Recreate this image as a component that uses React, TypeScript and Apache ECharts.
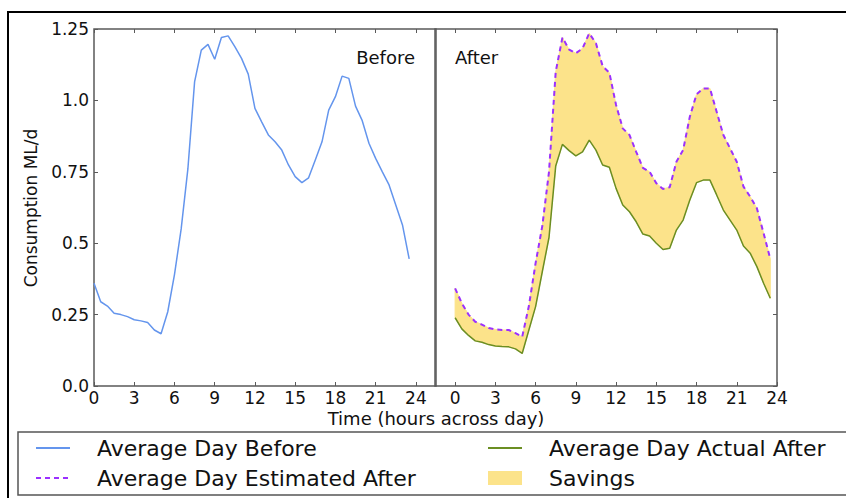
import React, { useEffect, useRef } from 'react';
import * as echarts from 'echarts';

const HOURS = [0, 0.5, 1, 1.5, 2, 2.5, 3, 3.5, 4, 4.5, 5, 5.5, 6, 6.5, 7, 7.5, 8, 8.5, 9, 9.5, 10, 10.5, 11, 11.5,
  12, 12.5, 13, 13.5, 14, 14.5, 15, 15.5, 16, 16.5, 17, 17.5, 18, 18.5, 19, 19.5, 20, 20.5, 21, 21.5, 22, 22.5, 23, 23.5];

const BEFORE = [0.36, 0.295, 0.28, 0.255, 0.25, 0.243, 0.232, 0.228, 0.222, 0.196, 0.183, 0.26, 0.39, 0.55, 0.76, 1.065,
  1.176, 1.196, 1.144, 1.22, 1.226, 1.188, 1.147, 1.092, 0.972, 0.925, 0.879, 0.855, 0.826, 0.774, 0.733, 0.712,
  0.729, 0.791, 0.855, 0.966, 1.013, 1.085, 1.077, 0.98, 0.929, 0.85, 0.797, 0.75, 0.704, 0.634, 0.564, 0.445];

const ESTIMATED_AFTER = [0.342, 0.29, 0.25, 0.225, 0.215, 0.203, 0.198, 0.196, 0.196, 0.185, 0.172, 0.28, 0.43, 0.56, 0.75, 1.1,
  1.22, 1.178, 1.165, 1.182, 1.235, 1.2, 1.12, 1.097, 0.984, 0.902, 0.879, 0.82, 0.764, 0.75, 0.71, 0.69,
  0.696, 0.785, 0.826, 0.943, 1.021, 1.042, 1.042, 0.96, 0.879, 0.832, 0.785, 0.698, 0.663, 0.622, 0.535, 0.445];

const ACTUAL_AFTER = [0.239, 0.2, 0.177, 0.158, 0.153, 0.145, 0.14, 0.138, 0.137, 0.13, 0.114, 0.196, 0.278, 0.4, 0.52, 0.77,
  0.846, 0.824, 0.806, 0.82, 0.861, 0.826, 0.774, 0.766, 0.692, 0.634, 0.61, 0.575, 0.532, 0.525, 0.5, 0.478,
  0.482, 0.546, 0.581, 0.651, 0.712, 0.721, 0.721, 0.669, 0.616, 0.581, 0.546, 0.49, 0.465, 0.418, 0.36, 0.307];

const X_TICKS = [0, 3, 6, 9, 12, 15, 18, 21, 24];
const Y_TICKS = [0, 0.25, 0.5, 0.75, 1, 1.25];
const Y_TICK_LABELS = ['0.0', '0.25', '0.5', '0.75', '1.0', '1.25'];

const BLUE = '#6495ED';
const PURPLE = '#9B30FF';
const GREEN = '#6B8E23';
const FILL = '#FCE38A';
const SPINE = '#5a5a5a';
const FONT = 'DejaVu Sans';

export default function App() {
  const ref = useRef<HTMLDivElement>(null);

  useEffect(() => {
    const chart = echarts.init(ref.current as HTMLDivElement, null, { renderer: 'svg' });
    const pairs = (ys: number[]) => HOURS.map((h, i) => [h, ys[i]]);

    const gridBase = { top: 29, width: 342, height: 357, show: true, borderColor: SPINE, borderWidth: 1.5, backgroundColor: 'transparent' };

    const xAxis = (gridIndex: number, min: number, max: number, position: string, showLabel: boolean) => ({
      type: 'value', gridIndex, min, max, position,
      axisLine: { show: false, onZero: false }, splitLine: { show: false },
      axisTick: { show: true, inside: true, length: 4, customValues: X_TICKS, lineStyle: { color: SPINE, width: 1 } },
      axisLabel: { show: showLabel, customValues: X_TICKS, margin: 3, fontSize: 17, color: '#111', fontFamily: FONT },
    });

    const yAxis = (gridIndex: number, position: string, showLabel: boolean, showTick: boolean) => ({
      type: 'value', gridIndex, min: 0, max: 1.25, interval: 0.25, position,
      axisLine: { show: false, onZero: false }, splitLine: { show: false },
      axisTick: { show: showTick, inside: true, length: 4, lineStyle: { color: SPINE, width: 1 } },
      axisLabel: {
        show: showLabel, margin: 5, fontSize: 17, color: '#111', fontFamily: FONT,
        formatter: (v: number) => {
          const idx = Y_TICKS.indexOf(Math.round(v * 100) / 100);
          return idx >= 0 ? Y_TICK_LABELS[idx] : '';
        },
      },
    });

    const legendBase = {
      top: 432, height: 70, orient: 'vertical', itemWidth: 34, itemHeight: 14, itemGap: 8,
      itemStyle: { opacity: 0 },
      textStyle: { fontSize: 22, fontFamily: FONT, color: '#111', padding: [0, 0, 0, 22], lineHeight: 16 },
    };

    chart.setOption({
      animation: false,
      backgroundColor: '#fff',
      grid: [
        { ...gridBase, left: 94 },
        { ...gridBase, left: 435 },
      ],
      xAxis: [
        xAxis(0, 0, 25.5, 'bottom', true),
        xAxis(1, -1.5, 24, 'bottom', true),
        xAxis(0, 0, 25.5, 'top', false),
        xAxis(1, -1.5, 24, 'top', false),
      ],
      yAxis: [
        yAxis(0, 'left', true, true),
        yAxis(1, 'left', false, false),
        yAxis(1, 'right', false, true),
      ],
      legend: [
        { ...legendBase, left: 30, data: ['Average Day Before', 'Average Day Estimated After'] },
        {
          ...legendBase, left: 482,
          data: ['Average Day Actual After', { name: 'Savings', icon: 'rect', itemStyle: { color: FILL, opacity: 1 } }],
        },
      ],
      graphic: [
        { type: 'rect', silent: true, z: -10, shape: { x: 8, y: 12, width: 900, height: 600 }, style: { fill: 'none', stroke: '#000', lineWidth: 2 } },
        { type: 'rect', silent: true, z: -10, shape: { x: 18, y: 432, width: 900, height: 63 }, style: { fill: 'none', stroke: '#555', lineWidth: 1.5 } },
        { type: 'text', x: 415, y: 57, style: { text: 'Before', fontSize: 18, fontFamily: FONT, fill: '#111', textAlign: 'right', textVerticalAlign: 'middle' } },
        { type: 'text', x: 455, y: 57, style: { text: 'After', fontSize: 18, fontFamily: FONT, fill: '#111', textAlign: 'left', textVerticalAlign: 'middle' } },
        { type: 'text', x: 436, y: 418, style: { text: 'Time (hours across day)', fontSize: 18, fontFamily: FONT, fill: '#111', textAlign: 'center', textVerticalAlign: 'middle' } },
        { type: 'text', x: 31, y: 208, rotation: Math.PI / 2, style: { text: 'Consumption ML/d', fontSize: 17, fontFamily: FONT, fill: '#111', textAlign: 'center', textVerticalAlign: 'middle' } },
      ],
      series: [
        {
          name: 'Average Day Before', type: 'line', xAxisIndex: 0, yAxisIndex: 0, data: pairs(BEFORE),
          symbol: 'none', lineStyle: { color: BLUE, width: 1.5 }, itemStyle: { color: BLUE }, z: 3,
        },
        {
          name: 'Savings', type: 'custom', xAxisIndex: 1, yAxisIndex: 1, data: [[0, 0]], silent: true, z: 1,
          itemStyle: { color: FILL },
          renderItem: (_params: any, api: any) => {
            const upper = HOURS.map((h, i) => api.coord([h, ESTIMATED_AFTER[i]]));
            const lower = HOURS.map((h, i) => api.coord([h, ACTUAL_AFTER[i]])).reverse();
            return {
              type: 'polygon',
              shape: { points: upper.concat(lower) },
              style: { fill: FILL, stroke: FILL, lineWidth: 1 },
            };
          },
        },
        {
          name: 'Average Day Actual After', type: 'line', xAxisIndex: 1, yAxisIndex: 1, data: pairs(ACTUAL_AFTER),
          symbol: 'none', lineStyle: { color: GREEN, width: 1.5 }, itemStyle: { color: GREEN }, z: 3,
        },
        {
          name: 'Average Day Estimated After', type: 'line', xAxisIndex: 1, yAxisIndex: 1, data: pairs(ESTIMATED_AFTER),
          symbol: 'none', lineStyle: { color: PURPLE, width: 2, type: [5, 4] }, itemStyle: { color: PURPLE }, z: 4,
        },
      ],
    });

    return () => chart.dispose();
  }, []);

  return <div ref={ref} style={{ position: 'absolute', left: 0, top: 0, width: 846, height: 498 }} />;
}
